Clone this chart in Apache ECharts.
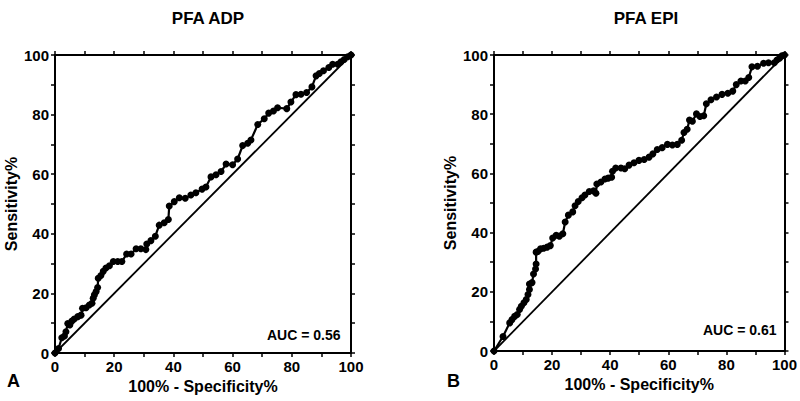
<!DOCTYPE html>
<html>
<head>
<meta charset="utf-8">
<script src="https://cdn.jsdelivr.net/npm/echarts@6/dist/echarts.min.js"></script>
<style>html,body{margin:0;padding:0;background:#fff}#c{width:800px;height:401px}</style>
</head>
<body>
<div id="c"></div>
<script>
// PFA ADP ROC curve (100% - Specificity%, Sensitivity%)
const adpX = [0,1.2,2.3,3.2,3.7,4.3,5.0,5.7,6.5,7.7,8.8,9.3,10.5,11.6,12.5,12.9,13.3,13.9,14.4,14.6,15.5,16.3,17.2,18.4,19.7,21.2,22.6,24.2,25.7,27.4,29.0,30.7,31.0,32.4,33.9,35.2,36.9,38.3,38.6,40.3,42.0,44.0,45.9,47.6,49.7,51.0,52.7,54.4,56.1,57.8,60.0,61.7,63.4,65.1,66.2,68.5,70.7,72.2,73.8,75.2,78.3,79.7,81.4,83.1,85.0,86.8,88.2,89.3,90.7,92.5,93.8,95.5,96.6,97.7,98.9,100];
const adpY = [0,1.5,5.1,5.7,7.1,9.9,9.4,10.7,11.4,12.2,12.7,15.0,15.2,16.1,16.7,18.4,19.5,20.6,22.0,25.1,26.0,27.4,28.5,29.3,30.7,30.7,30.7,33.2,33.2,35.0,35.0,34.7,36.6,37.7,39.2,42.9,43.7,44.8,49.3,50.8,52.1,51.9,53.0,53.8,55.0,55.7,59.1,59.8,60.9,63.4,63.2,65.1,69.6,70.4,71.5,76.7,78.6,80.5,81.2,82.3,82.0,84.2,86.7,86.8,87.4,89.3,93.0,93.8,94.7,95.8,96.9,96.9,97.7,98.5,99.4,100];
// PFA EPI ROC curve
const epiX = [0,3.1,5.4,6.2,7.1,8.0,8.8,9.4,10.3,11.1,11.7,12.2,12.2,13.1,13.6,14.3,14.5,14.5,15.1,16.0,17.1,18.3,19.4,20.2,21.4,22.5,23.7,24.5,25.6,27.1,27.9,29.0,30.3,31.3,32.8,34.3,35.1,35.4,36.8,38.2,39.3,40.5,40.8,41.9,43.7,45.0,46.5,48.2,49.9,51.7,53.4,54.7,56.2,57.9,59.7,61.4,63.1,64.6,65.4,66.5,67.3,68.3,69.7,70.9,72.2,73.1,74.7,76.6,78.5,80.5,82.2,83.4,85.0,86.5,87.7,88.8,90.7,92.8,94.5,96.5,97.4,98.3,99.1,100];
const epiY = [0,4.9,9.5,10.6,11.7,12.3,14.0,15.1,16.3,17.4,19.1,20.8,22.6,23.1,26.0,27.7,29.4,33.4,33.6,34.5,34.7,35.1,35.6,38.2,39.1,38.8,39.6,43.6,45.9,47.0,49.1,50.5,51.8,52.7,53.9,54.1,53.3,56.4,57.1,58.1,58.4,58.7,60.7,61.8,61.8,61.6,62.8,63.6,64.4,64.7,65.5,66.6,68.1,68.7,69.8,69.6,69.8,71.2,73.8,74.9,78.0,77.6,80.1,79.2,79.5,83.5,84.9,85.8,86.7,87.1,87.8,90.0,91.2,91.2,92.4,96.0,96.2,97.2,97.4,97.4,98.3,98.9,99.7,100];
const diagX = [0,100];
const diagY = [0,100];
const titles = ['PFA ADP','PFA EPI'];
const aucLabels = ['AUC = 0.56','AUC = 0.61'];
const panelLetters = ['A','B'];
const axisMin = 0, axisMax = 100, tickStep = 10, labelStep = 20;
const xName = '100% - Specificity%';
const yName = 'Sensitivity%';

const pairs = (xs, ys) => xs.map((x, i) => [x, ys[i]]);
const FONT = 'Liberation Sans, Arial, sans-serif';
const grids = [
  {left: 55, top: 55, width: 296, height: 298},
  {left: 494, top: 55, width: 295, height: 296}
];
const lbl = v => (v % labelStep === 0 ? String(v) : '');
function mainAxis(type, gi, name, gap) {
  return {
    type: 'value', gridIndex: gi, min: axisMin, max: axisMax, interval: tickStep,
    position: type === 'x' ? 'bottom' : 'left',
    name: name, nameLocation: 'middle', nameGap: gap,
    nameTextStyle: {color: '#000', fontSize: 16, fontWeight: 'bold', fontFamily: FONT},
    axisLine: {show: true, onZero: false, lineStyle: {color: '#000', width: 2}},
    axisTick: {show: true, length: 4, lineStyle: {color: '#000', width: 1.5}},
    axisLabel: {color: '#000', fontSize: 15, fontWeight: 'bold', fontFamily: FONT, margin: 6, formatter: lbl},
    splitLine: {show: false}
  };
}
function boxAxis(type, gi) {
  return {
    type: 'value', gridIndex: gi, min: axisMin, max: axisMax, interval: tickStep,
    position: type === 'x' ? 'top' : 'right',
    axisLine: {show: true, onZero: false, lineStyle: {color: '#000', width: 2}},
    axisTick: {show: true, length: 4, lineStyle: {color: '#000', width: 1.5}},
    axisLabel: {show: false},
    splitLine: {show: false}
  };
}
const xAxes = [mainAxis('x',0,xName,25), boxAxis('x',0), mainAxis('x',1,xName,25), boxAxis('x',1)];
const yAxes = [mainAxis('y',0,yName,36), boxAxis('y',0), mainAxis('y',1,yName,36), boxAxis('y',1)];

function rocSeries(data, xi, yi) {
  return {
    type: 'line', xAxisIndex: xi, yAxisIndex: yi, data: data,
    symbol: 'circle', symbolSize: 7, showSymbol: true,
    lineStyle: {color: '#000', width: 2.2}, itemStyle: {color: '#000'},
    animation: false, z: 3
  };
}
function diagSeries(xi, yi) {
  return {
    type: 'line', xAxisIndex: xi, yAxisIndex: yi, data: pairs(diagX, diagY),
    symbol: 'none', lineStyle: {color: '#000', width: 1.8}, animation: false, z: 2
  };
}

const chart = echarts.init(document.getElementById('c'), null, {renderer: 'svg'});
chart.setOption({
  backgroundColor: '#fff',
  animation: false,
  title: [
    {text: titles[0], left: 203, top: 5, textAlign: 'center', textStyle: {fontSize: 17, fontWeight: 'bold', fontFamily: FONT, color: '#000'}},
    {text: titles[1], left: 641, top: 5, textAlign: 'center', textStyle: {fontSize: 17, fontWeight: 'bold', fontFamily: FONT, color: '#000'}}
  ],
  graphic: [
    {type: 'text', left: 267, top: 328, style: {text: aucLabels[0], font: 'bold 14px ' + FONT, fill: '#000'}},
    {type: 'text', left: 703, top: 323, style: {text: aucLabels[1], font: 'bold 14px ' + FONT, fill: '#000'}},
    {type: 'text', left: 7, top: 372, style: {text: panelLetters[0], font: 'bold 18px ' + FONT, fill: '#000'}},
    {type: 'text', left: 447, top: 372, style: {text: panelLetters[1], font: 'bold 18px ' + FONT, fill: '#000'}}
  ],
  grid: grids,
  xAxis: xAxes,
  yAxis: yAxes,
  series: [
    diagSeries(0, 0),
    rocSeries(pairs(adpX, adpY), 0, 0),
    diagSeries(2, 2),
    rocSeries(pairs(epiX, epiY), 2, 2)
  ]
});
</script>
</body>
</html>
